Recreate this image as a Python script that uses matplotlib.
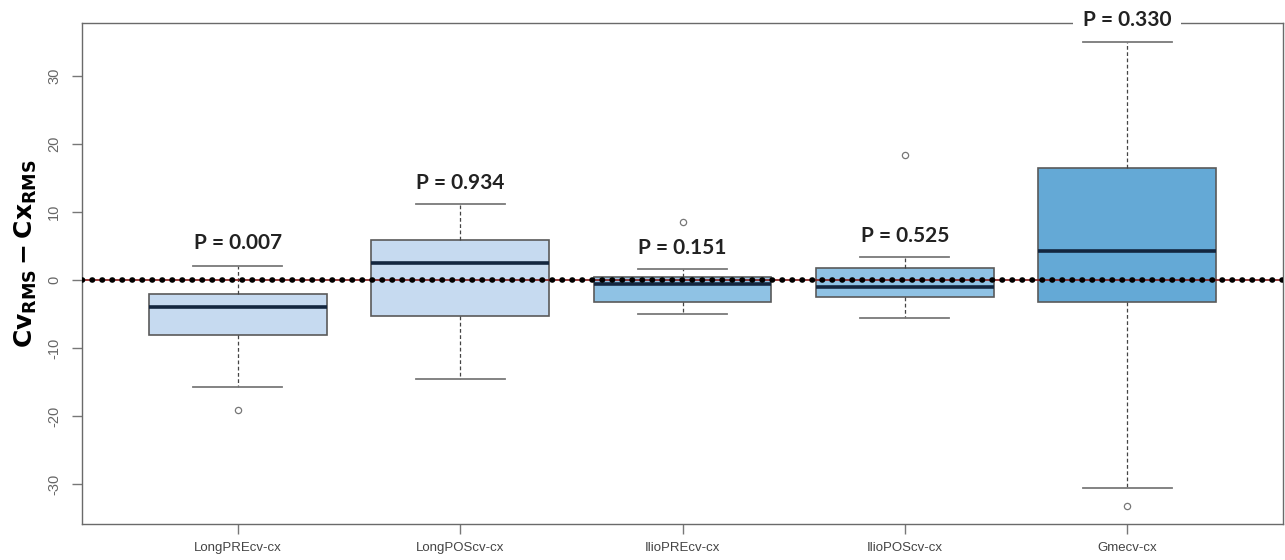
import numpy as np
import matplotlib.pyplot as plt

# Box statistics
groups = ['LongPREcv-cx', 'LongPOScv-cx', 'IlioPREcv-cx', 'IlioPOScv-cx', 'Gmecv-cx']
whis_lo = [-15.7, -14.6, -5.0, -5.6, -30.6]
q1 = [-8.1, -5.3, -3.2, -2.5, -3.2]
median = [-4.0, 2.5, -0.6, -1.0, 4.3]
q3 = [-2.1, 5.9, 0.4, 1.8, 16.5]
whis_hi = [2.1, 11.2, 1.6, 3.4, 35.0]
outliers = [[-19.1], [], [8.5], [18.4], [-33.2]]
p_labels = ['P = 0.007', 'P = 0.934', 'P = 0.151', 'P = 0.525', 'P = 0.330']
p_label_y = [5.4, 14.3, 4.7, 6.5, 38.2]
box_colors = ['#c6daf0', '#c6daf0', '#8fc2e4', '#8fc2e4', '#64a9d6']

positions = np.arange(1, len(groups) + 1)

stats = []
for i in range(len(groups)):
    stats.append(dict(med=median[i], q1=q1[i], q3=q3[i],
                      whislo=whis_lo[i], whishi=whis_hi[i],
                      fliers=outliers[i], label=groups[i]))

fig = plt.figure(figsize=(12.85, 5.6), dpi=100)
ax = fig.add_axes([0.0638, 0.0643, 0.9347, 0.8946])

bp = ax.bxp(stats, positions=positions, widths=0.8, patch_artist=True,
            boxprops=dict(edgecolor='#5a5a5a', linewidth=1.2),
            medianprops=dict(color='#13263f', linewidth=2.6),
            whiskerprops=dict(color='#444444', linewidth=0.9, linestyle=(0, (3, 2))),
            capprops=dict(color='#7a7a7a', linewidth=1.3),
            flierprops=dict(marker='o', markersize=4.5, markerfacecolor='none',
                            markeredgecolor='#777777', markeredgewidth=0.9))
for patch, c in zip(bp['boxes'], box_colors):
    patch.set_facecolor(c)

# reference line at zero
ax.axhline(0, color='#8b1a1a', linewidth=1.2, zorder=5)
ax.axhline(0, color='black', linewidth=4, linestyle=(0, (0.1, 1.7)),
           dash_capstyle='round', zorder=6)

for x, y, t in zip(positions, p_label_y, p_labels):
    ax.text(x, y, t, ha='center', va='center', fontsize=15, fontweight='bold',
            family='Lato', color='#222222', clip_on=False, zorder=10,
            bbox=dict(facecolor='white', edgecolor='none', pad=7) if y > 37 else None)

ax.set_xlim(0.3, 5.7)
ax.set_ylim(-35.9, 37.8)
ax.set_xticks(positions)
ax.set_xticklabels(groups, fontsize=9.5, family='Liberation Sans')
ax.set_yticks([-30, -20, -10, 0, 10, 20, 30])
ax.set_yticklabels(['-30', '-20', '-10', '0', '10', '20', '30'],
                   rotation=90, va='center', fontsize=10.5, family='Liberation Sans')
ax.tick_params(axis='both', colors='#777777', length=7, width=1)
ax.tick_params(axis='x', labelcolor='#444444', pad=6)
ax.tick_params(axis='y', labelcolor='#666666', pad=8)
for s in ax.spines.values():
    s.set_color('#6a6a6a')
    s.set_linewidth(1)

ax.set_ylabel(r'$\mathbf{Cv_{RMS}-Cx_{RMS}}$', fontsize=18)
ax.yaxis.set_label_coords(-0.036, 0.54)

plt.savefig('out.png', dpi=100)
